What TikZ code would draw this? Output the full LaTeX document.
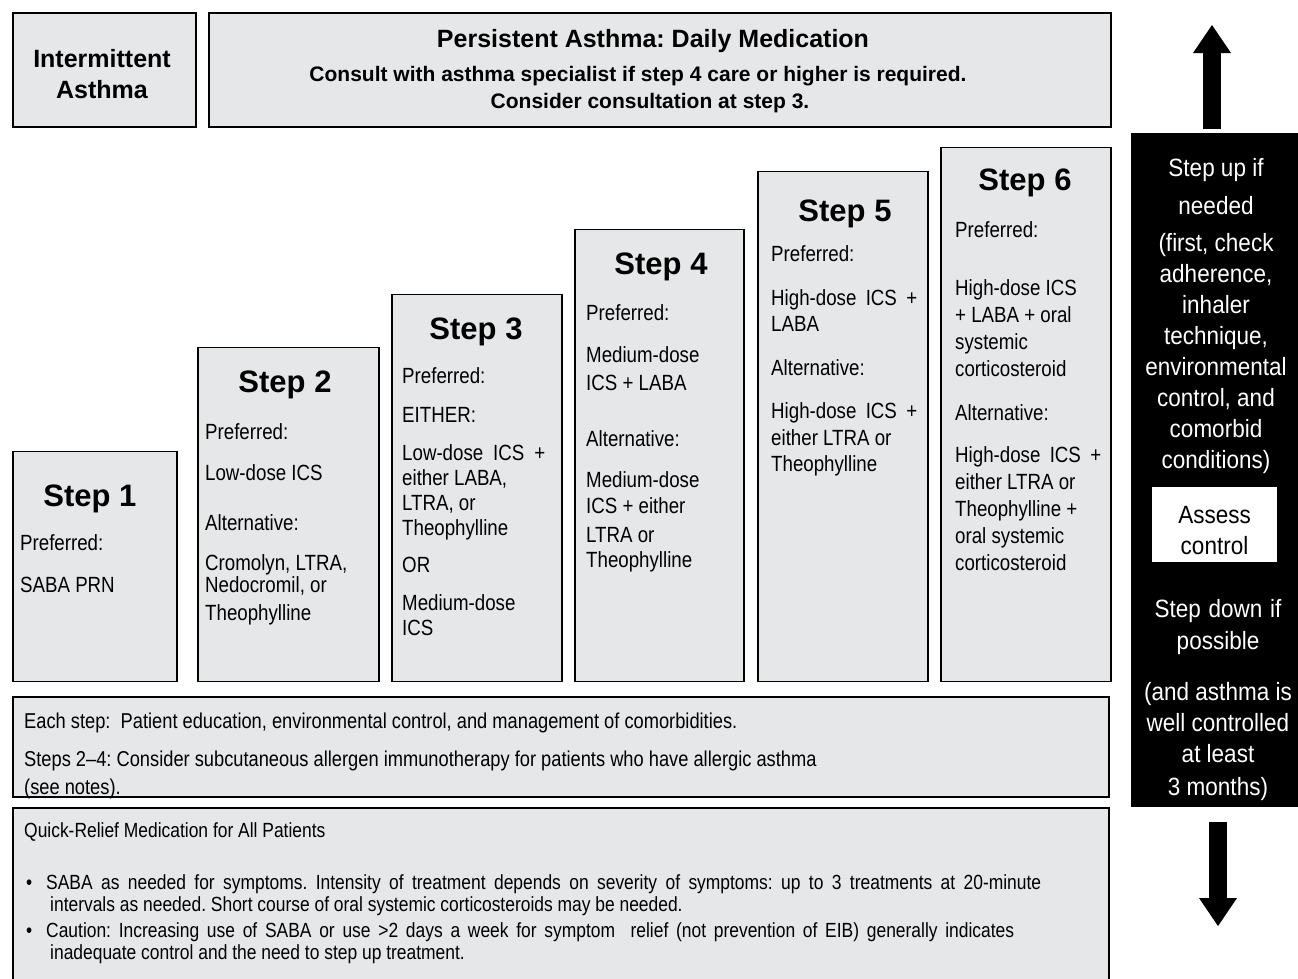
\documentclass[tikz,border=0pt]{standalone}
\usepackage{fontspec}
\setmainfont{Liberation Sans}
\newfontfamily\narrowsans[FakeStretch=0.85]{Liberation Sans}
\newfontfamily\colsans[FakeStretch=0.9]{Liberation Sans}
\usepackage{tikz}
\usetikzlibrary{positioning,arrows.meta}
\definecolor{boxgray}{RGB}{230,231,232}
\newcommand{\jline}[2]{\makebox[#1][s]{#2}}
\frenchspacing
\tikzset{
  graybox/.style={draw=black, line width=1.5pt, fill=boxgray, inner sep=0pt},
  headtext/.style={inner sep=0pt, anchor=base, align=center, font=\bfseries\fontsize{25}{31}\selectfont},
  notetext/.style={inner sep=0pt, anchor=base, font=\bfseries\fontsize{21}{27}\selectfont},
  steptitle/.style={inner sep=0pt, anchor=base, font=\bfseries\fontsize{31}{31}\selectfont},
  steptext/.style={inner sep=0pt, anchor=base west, align=left, font=\narrowsans\fontsize{22}{27}\selectfont},
  basetext/.style={inner sep=0pt, anchor=base west, font=\narrowsans\fontsize{21.5}{27}\selectfont},
  quicktext/.style={inner sep=0pt, anchor=base west, align=left, font=\narrowsans\fontsize{20.5}{22}\selectfont},
  coltext/.style={inner sep=0pt, anchor=base, align=center, text=white, font=\colsans\fontsize{25}{31}\selectfont},
  bigarrow/.style={line width=18pt, -{Triangle[width=38pt, length=28pt, line width=0pt]}},
}

\begin{document}
\begin{tikzpicture}[x=1pt, y=-1pt]
  \useasboundingbox (0,0) rectangle (1298,978);

  % header (multi-line nodes sit on their last baseline)
  \node[graybox, minimum width=183pt, minimum height=114pt, anchor=north west] (interm) at (12,12) {};
  \node[headtext] (intermtext) at (102,98) {Intermittent\\Asthma};
  \node[graybox, minimum width=902pt, minimum height=114pt, anchor=north west] (persist) at (208,12) {};
  \node[headtext] (persisttitle) at (653,47) {Persistent Asthma: Daily Medication};
  \node[notetext] (consult) at (638,81) {Consult with asthma specialist if step 4 care or higher is required.};
  \node[notetext] (consider) at (650,108) {Consider consultation at step 3.};

  % steps
  \node[graybox, minimum width=164pt, minimum height=230pt, anchor=south west] (step1) at (12,682) {};
  \node[steptitle] (title1) at (90,506) {Step 1};
  \node[steptext] (text1) at (20,592) {Preferred:\\[15pt]SABA PRN};

  \node[graybox, minimum width=181pt, minimum height=334pt, anchor=south west] (step2) at (197,682) {};
  \node[steptitle] (title2) at (285,392) {Step 2};
  \node[steptext] (text2) at (205,620) {Preferred:\\[14pt]Low-dose ICS\\[23pt]Alternative:\\[13pt]Cromolyn, LTRA,\\[-5pt]Nedocromil, or\\[1pt]Theophylline};

  \node[graybox, minimum width=170pt, minimum height=387pt, anchor=south west] (step3) at (391,682) {};
  \node[steptitle] (title3) at (476,339) {Step 3};
  \node[steptext] (text3) at (402,635) {Preferred:\\[12pt]EITHER:\\[11pt]\jline{143pt}{Low-dose ICS +}\\[-2pt]either LABA,\\[-2pt]LTRA, or\\[-2pt]Theophylline\\[10pt]OR\\[11pt]Medium-dose\\[-2pt]ICS};

  \node[graybox, minimum width=169pt, minimum height=452pt, anchor=south west] (step4) at (574,682) {};
  \node[steptitle] (title4) at (661,274) {Step 4};
  \node[steptext] (text4) at (586,567) {Preferred:\\[15pt]Medium-dose\\[1pt]ICS + LABA\\[29pt]Alternative:\\[14pt]Medium-dose\\[-1pt]ICS + either\\[2pt]LTRA or\\[-2pt]Theophylline};

  \node[graybox, minimum width=170pt, minimum height=510pt, anchor=south west] (step5) at (757,682) {};
  \node[steptitle] (title5) at (845,221) {Step 5};
  \node[steptext] (text5) at (771,471) {Preferred:\\[17pt]\jline{146pt}{High-dose ICS +}\\[-1pt]LABA\\[17pt]Alternative:\\[16pt]\jline{146pt}{High-dose ICS +}\\either LTRA or\\[-1pt]Theophylline};

  \node[graybox, minimum width=170pt, minimum height=534pt, anchor=south west] (step6) at (940,682) {};
  \node[steptitle] (title6) at (1025,190) {Step 6};
  \node[steptext] (text6) at (955,570) {Preferred:\\[31pt]High-dose ICS\\+ LABA + oral\\systemic\\corticosteroid\\[17pt]Alternative:\\[15pt]\jline{146pt}{High-dose ICS +}\\either LTRA or\\Theophylline +\\oral systemic\\corticosteroid};

  % bottom boxes
  \node[graybox, minimum width=1096pt, minimum height=100pt, anchor=north west] (eachstep) at (12,696) {};
  \node[basetext] (each1) at (24,728) {Each step:\ \ Patient education, environmental control, and management of comorbidities.};
  \node[basetext] (each2) at (24,766) {Steps 2–4: Consider subcutaneous allergen immunotherapy for patients who have allergic asthma};
  \node[basetext] (each3) at (24,794) {(see notes).};

  \node[graybox, minimum width=1096pt, minimum height=190pt, anchor=north west] (quick) at (12,807) {};
  \node[quicktext] (quickhead) at (24,837) {Quick-Relief Medication for All Patients};
  \node[quicktext] (dot1) at (26,889) {•};
  \node[quicktext] (bullet1) at (46,911) {\jline{995pt}{SABA as needed for symptoms. Intensity of treatment depends on severity of symptoms: up to 3 treatments at 20-minute}\\\hspace*{4pt}intervals as needed. Short course of oral systemic corticosteroids may be needed.};
  \node[quicktext] (dot2) at (26,937) {•};
  \node[quicktext] (bullet2) at (46,959) {\jline{968pt}{Caution: Increasing use of SABA or use >2 days a week for symptom\ \ relief (not prevention of EIB) generally indicates}\\\hspace*{4pt}inadequate control and the need to step up treatment.};

  % step up / step down column
  \node[fill=black, inner sep=0pt, minimum width=167pt, minimum height=674pt, anchor=north west] (ctrl) at (1131,133) {};
  \node[coltext] (stepup) at (1216,468) {Step up if\\[7pt]needed\\[6pt](first, check\\adherence,\\inhaler\\technique,\\environmental\\control, and\\comorbid\\conditions)};
  \node[fill=white, inner sep=0pt, minimum width=125pt, minimum height=75pt] (assess) at (1214.5,524.5) {};
  \node[coltext, text=black] (assesstext) at (1214.5,554) {Assess\\control};
  \node[coltext] (stepdown) at (1218,795) {\jline{127pt}{Step down if}\\[1pt]possible\\[20pt](and asthma is\\well controlled\\at least\\[2pt]3 months)};

  \coordinate (uptip) at (1212,25);
  \coordinate (downtip) at (1218,926);
  \draw[bigarrow] ([yshift=4pt]uptip |- ctrl.north) -- (uptip);
  \draw[bigarrow] ([yshift=-15pt]downtip |- ctrl.south) -- (downtip);
\end{tikzpicture}
\end{document}
